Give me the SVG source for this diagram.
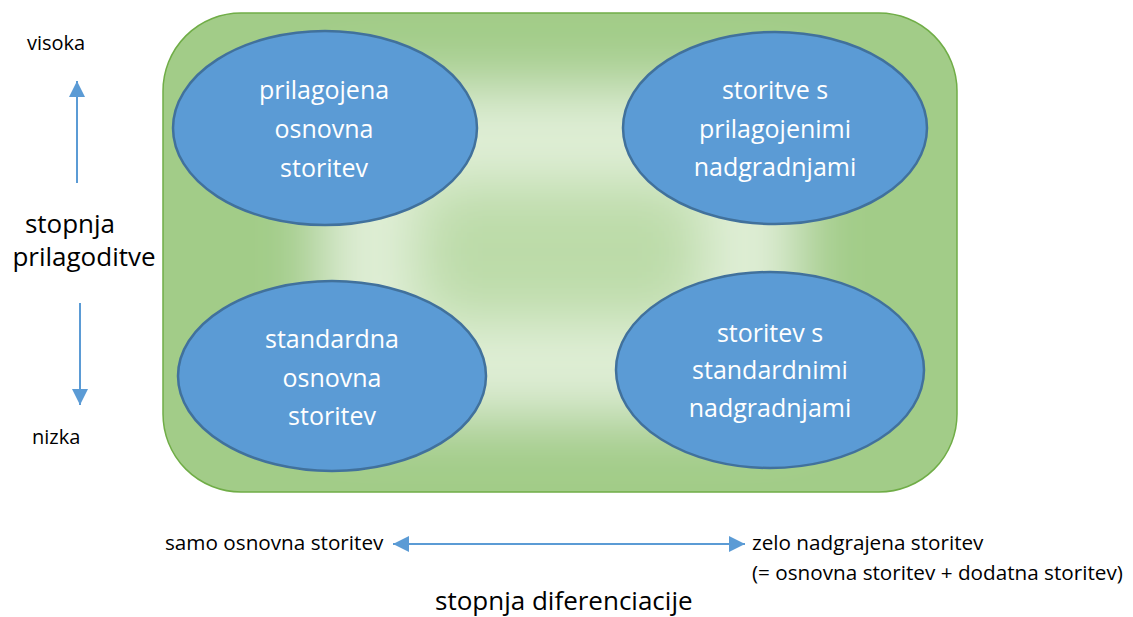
<svg xmlns="http://www.w3.org/2000/svg" width="1133" height="617" viewBox="0 0 1133 617">
  <style>
    .ell { fill: #5B9BD5; stroke: #41719C; stroke-width: 2.5; }
    .lbl { font-family: "Open Sans", "Liberation Sans", sans-serif; font-size: 25px; fill: #FFFFFF; text-anchor: middle; }
    .side { font-family: "Open Sans", "Liberation Sans", sans-serif; fill: #000000; }
    .conn { stroke: #5B9BD5; stroke-width: 2; fill: none; }
  </style>
  <defs>
    <marker id="ah" markerUnits="userSpaceOnUse" markerWidth="16" markerHeight="16" refX="16" refY="8" orient="auto-start-reverse" viewBox="0 0 16 16">
      <path d="M0,0 L16,8 L0,16 z" fill="#5B9BD5"/>
    </marker>
    <clipPath id="cp">
      <rect x="163" y="13" width="794" height="479" rx="78" ry="78"/>
    </clipPath>
    <filter id="soft" x="-20%" y="-20%" width="140%" height="140%">
      <feGaussianBlur stdDeviation="32"/>
    </filter>
  </defs>

  <g id="container">
    <g clip-path="url(#cp)">
      <rect x="100" y="-50" width="920" height="600" fill="#A2CC88"/>
      <g filter="url(#soft)">
        <rect x="63" y="-87" width="994" height="679" fill="#A2CC88"/>
        <rect x="370" y="135" width="380" height="234" fill="#BCDBA8" stroke="#E4F1DC" stroke-width="85"/>
      </g>
    </g>
    <rect x="163" y="13" width="794" height="479" rx="78" ry="78" fill="none" stroke="#70AD47" stroke-width="1.5"/>
  </g>

  <g id="node-tl">
    <ellipse class="ell" cx="325" cy="128" rx="152" ry="97"/>
    <text class="lbl" x="324" y="99">prilagojena</text>
    <text class="lbl" x="324" y="138">osnovna</text>
    <text class="lbl" x="324" y="177">storitev</text>
  </g>

  <g id="node-tr">
    <ellipse class="ell" cx="775" cy="128" rx="152" ry="96"/>
    <text class="lbl" x="775" y="99">storitve s</text>
    <text class="lbl" x="775" y="138">prilagojenimi</text>
    <text class="lbl" x="775" y="176">nadgradnjami</text>
  </g>

  <g id="node-bl">
    <ellipse class="ell" cx="332" cy="376" rx="154" ry="95"/>
    <text class="lbl" x="332" y="348">standardna</text>
    <text class="lbl" x="332" y="387">osnovna</text>
    <text class="lbl" x="332" y="425">storitev</text>
  </g>

  <g id="node-br">
    <ellipse class="ell" cx="770" cy="370" rx="154" ry="98"/>
    <text class="lbl" x="770" y="342">storitev s</text>
    <text class="lbl" x="770" y="379">standardnimi</text>
    <text class="lbl" x="770" y="417">nadgradnjami</text>
  </g>

  <g id="axis-labels">
    <text class="side" x="27" y="50" font-size="20">visoka</text>
    <text class="side" x="32" y="444" font-size="20">nizka</text>
    <text class="side" x="70" y="233" font-size="26" text-anchor="middle">stopnja</text>
    <text class="side" x="84" y="266" font-size="26" text-anchor="middle">prilagoditve</text>
    <text class="side" x="165" y="550" font-size="20.7">samo osnovna storitev</text>
    <text class="side" x="752" y="550" font-size="20.7">zelo nadgrajena storitev</text>
    <text class="side" x="752" y="580" font-size="20.7">(= osnovna storitev + dodatna storitev)</text>
    <text class="side" x="435" y="610" font-size="26">stopnja diferenciacije</text>
  </g>

  <g id="connectors">
    <line class="conn" x1="77" y1="183" x2="77" y2="81" marker-end="url(#ah)"/>
    <line class="conn" x1="80" y1="303" x2="80" y2="405" marker-end="url(#ah)"/>
    <line class="conn" x1="393" y1="544" x2="745" y2="544" marker-start="url(#ah)" marker-end="url(#ah)"/>
  </g>
</svg>
